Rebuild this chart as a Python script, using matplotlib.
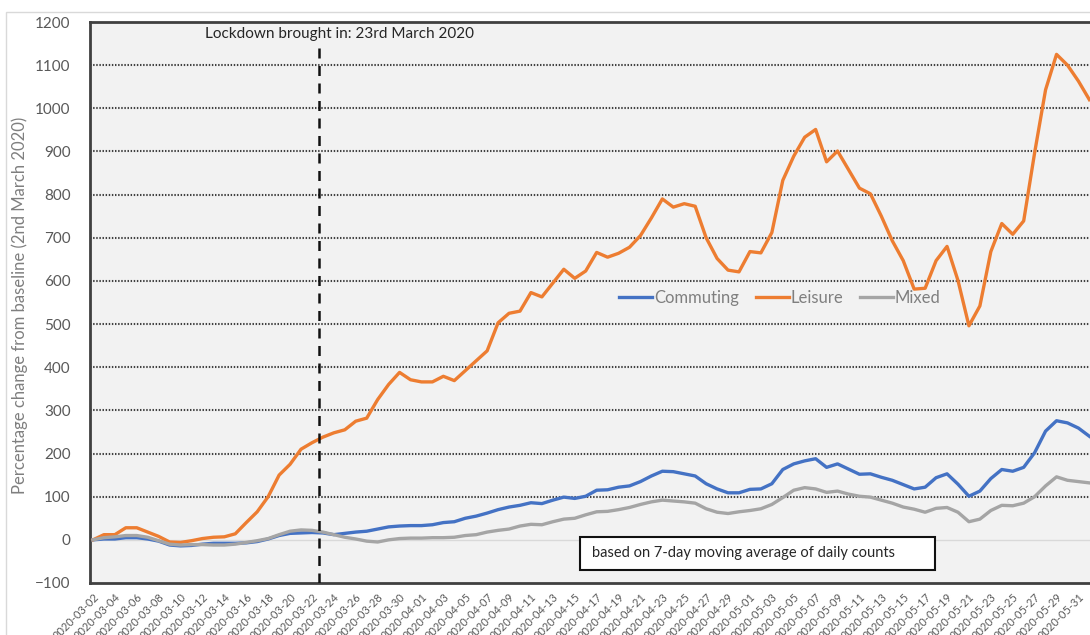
import numpy as np
import pandas as pd
import matplotlib
matplotlib.use("Agg")
import matplotlib.pyplot as plt
from matplotlib.patches import Rectangle

plt.rcParams['font.family'] = ['Lato', 'DejaVu Sans']

start_date = '2020-03-02'
lockdown_date = '2020-03-23'

# percentage change from baseline, 7-day moving average, one value per day
commuting = [0, 2, 2, 5, 5, 2, -3, -12, -14, -13,
             -10, -8, -8, -8, -7, -4, 2, 10, 15, 16,
             17, 16, 12, 15, 18, 20, 25, 30, 32, 33,
             33, 35, 40, 42, 50, 55, 62, 70, 76, 80,
             86, 84, 92, 99, 96, 101, 115, 116, 122, 125,
             135, 148, 159, 158, 153, 148, 130, 118, 109, 109,
             117, 118, 130, 163, 176, 183, 188, 168, 176, 164,
             152, 153, 145, 138, 128, 118, 122, 144, 153, 129,
             101, 113, 142, 163, 159, 168, 202, 252, 276, 271,
             259, 240]
leisure = [0, 12, 12, 28, 28, 18, 8, -5, -6, -2,
           3, 6, 7, 14, 40, 65, 100, 150, 175, 210,
           225, 238, 248, 255, 275, 282, 325, 360, 388, 371,
           366, 366, 379, 369, 392, 415, 438, 503, 525, 530,
           573, 563, 595, 627, 606, 623, 666, 655, 664, 678,
           705, 746, 790, 771, 779, 773, 700, 652, 625, 621,
           668, 665, 712, 833, 889, 933, 951, 876, 901, 858,
           815, 802, 750, 693, 647, 581, 583, 647, 680, 601,
           496, 542, 668, 733, 708, 739, 897, 1043, 1125, 1100,
           1063, 1020]
mixed = [0, 5, 7, 10, 10, 6, -2, -10, -12, -11,
         -11, -12, -12, -10, -6, -2, 3, 12, 20, 23,
         22, 18, 12, 6, 2, -3, -5, 0, 3, 4,
         4, 5, 5, 6, 10, 12, 18, 22, 25, 32,
         36, 35, 42, 48, 50, 58, 65, 66, 70, 75,
         82, 88, 92, 90, 88, 85, 72, 64, 61, 65,
         68, 72, 82, 98, 115, 121, 118, 110, 113, 106,
         101, 99, 92, 85, 76, 71, 64, 73, 75, 64,
         42, 48, 68, 80, 79, 85, 100, 125, 146, 138,
         135, 132]

dates = pd.date_range(start_date, periods=len(leisure), freq='D')
idx = np.arange(len(dates))
tick_idx = idx[::2]
tick_labels = [d.strftime('%Y-%m-%d') for d in dates[::2]]
lock_idx = int(np.where(dates == pd.Timestamp(lockdown_date))[0][0])

fig = plt.figure(figsize=(10.9, 6.35), dpi=100)
fig.patch.set_facecolor('white')

# light outer chart border
fig.patches.append(Rectangle((6 / 1090, -0.1), 1.2, (635 - 12) / 635 + 0.1,
                             transform=fig.transFigure, fill=False,
                             edgecolor='#d9d9d9', lw=1))

ax = fig.add_axes([90 / 1090, 52 / 635, 1010 / 1090, 561 / 635])
ax.set_facecolor('#f2f2f2')

for y in range(100, 1200, 100):
    ax.axhline(y, color='#404040', lw=1.5, ls=(0, (0.7, 0.8)), zorder=1)
ax.axhline(0, color='#d9d9d9', lw=1, zorder=1)

ax.plot(idx, commuting, color='#4472C4', lw=2.4, label='Commuting', zorder=3,
        solid_joinstyle='round')
ax.plot(idx, leisure, color='#ED7D31', lw=2.4, label='Leisure', zorder=3,
        solid_joinstyle='round')
ax.plot(idx, mixed, color='#A5A5A5', lw=2.4, label='Mixed', zorder=3,
        solid_joinstyle='round')

ax.plot([lock_idx - 0.4, lock_idx - 0.4], [-100, 1140], color='#111111', lw=1.8,
        ls=(0, (4, 3)), zorder=4)
ax.text(0.2475, 0.978, 'Lockdown brought in: 23rd March 2020',
        transform=ax.transAxes, ha='center', va='center',
        fontsize=11, color='#262626')

ax.set_xlim(-0.27, 91.97)
ax.set_ylim(-100, 1200)
ax.set_yticks(range(-100, 1300, 100))
ax.tick_params(axis='y', length=0, pad=14, labelsize=11, labelcolor='#595959')
ax.set_xticks(tick_idx)
ax.set_xticklabels(tick_labels, rotation=45, ha='right', rotation_mode='anchor')
ax.tick_params(axis='x', length=0, pad=6, labelsize=8, labelcolor='#595959')

for side in ['left', 'top', 'bottom']:
    ax.spines[side].set_color('#404040')
    ax.spines[side].set_linewidth(2)
ax.spines['right'].set_visible(False)

ax.set_ylabel('Percentage change from baseline (2nd March 2020)',
              fontsize=12, color='#7f7f7f')
ax.yaxis.set_label_coords(-0.061, 0.495)

leg = ax.legend(loc='center', bbox_to_anchor=(0.683, 0.508), ncol=3,
                frameon=False, handlelength=2.0, handletextpad=0.1,
                columnspacing=1.0, fontsize=12)
for t in leg.get_texts():
    t.set_color('#7f7f7f')

ax.add_patch(Rectangle((0.485, 0.0232), 0.3515, 0.0588, transform=ax.transAxes,
                       facecolor='white', edgecolor='#111111', lw=1.5, zorder=5))
ax.text(0.497, 0.0526, 'based on 7-day moving average of daily counts',
        transform=ax.transAxes, ha='left', va='center', fontsize=10.5,
        color='#262626', zorder=6)

fig.savefig('out.png', dpi=100)
